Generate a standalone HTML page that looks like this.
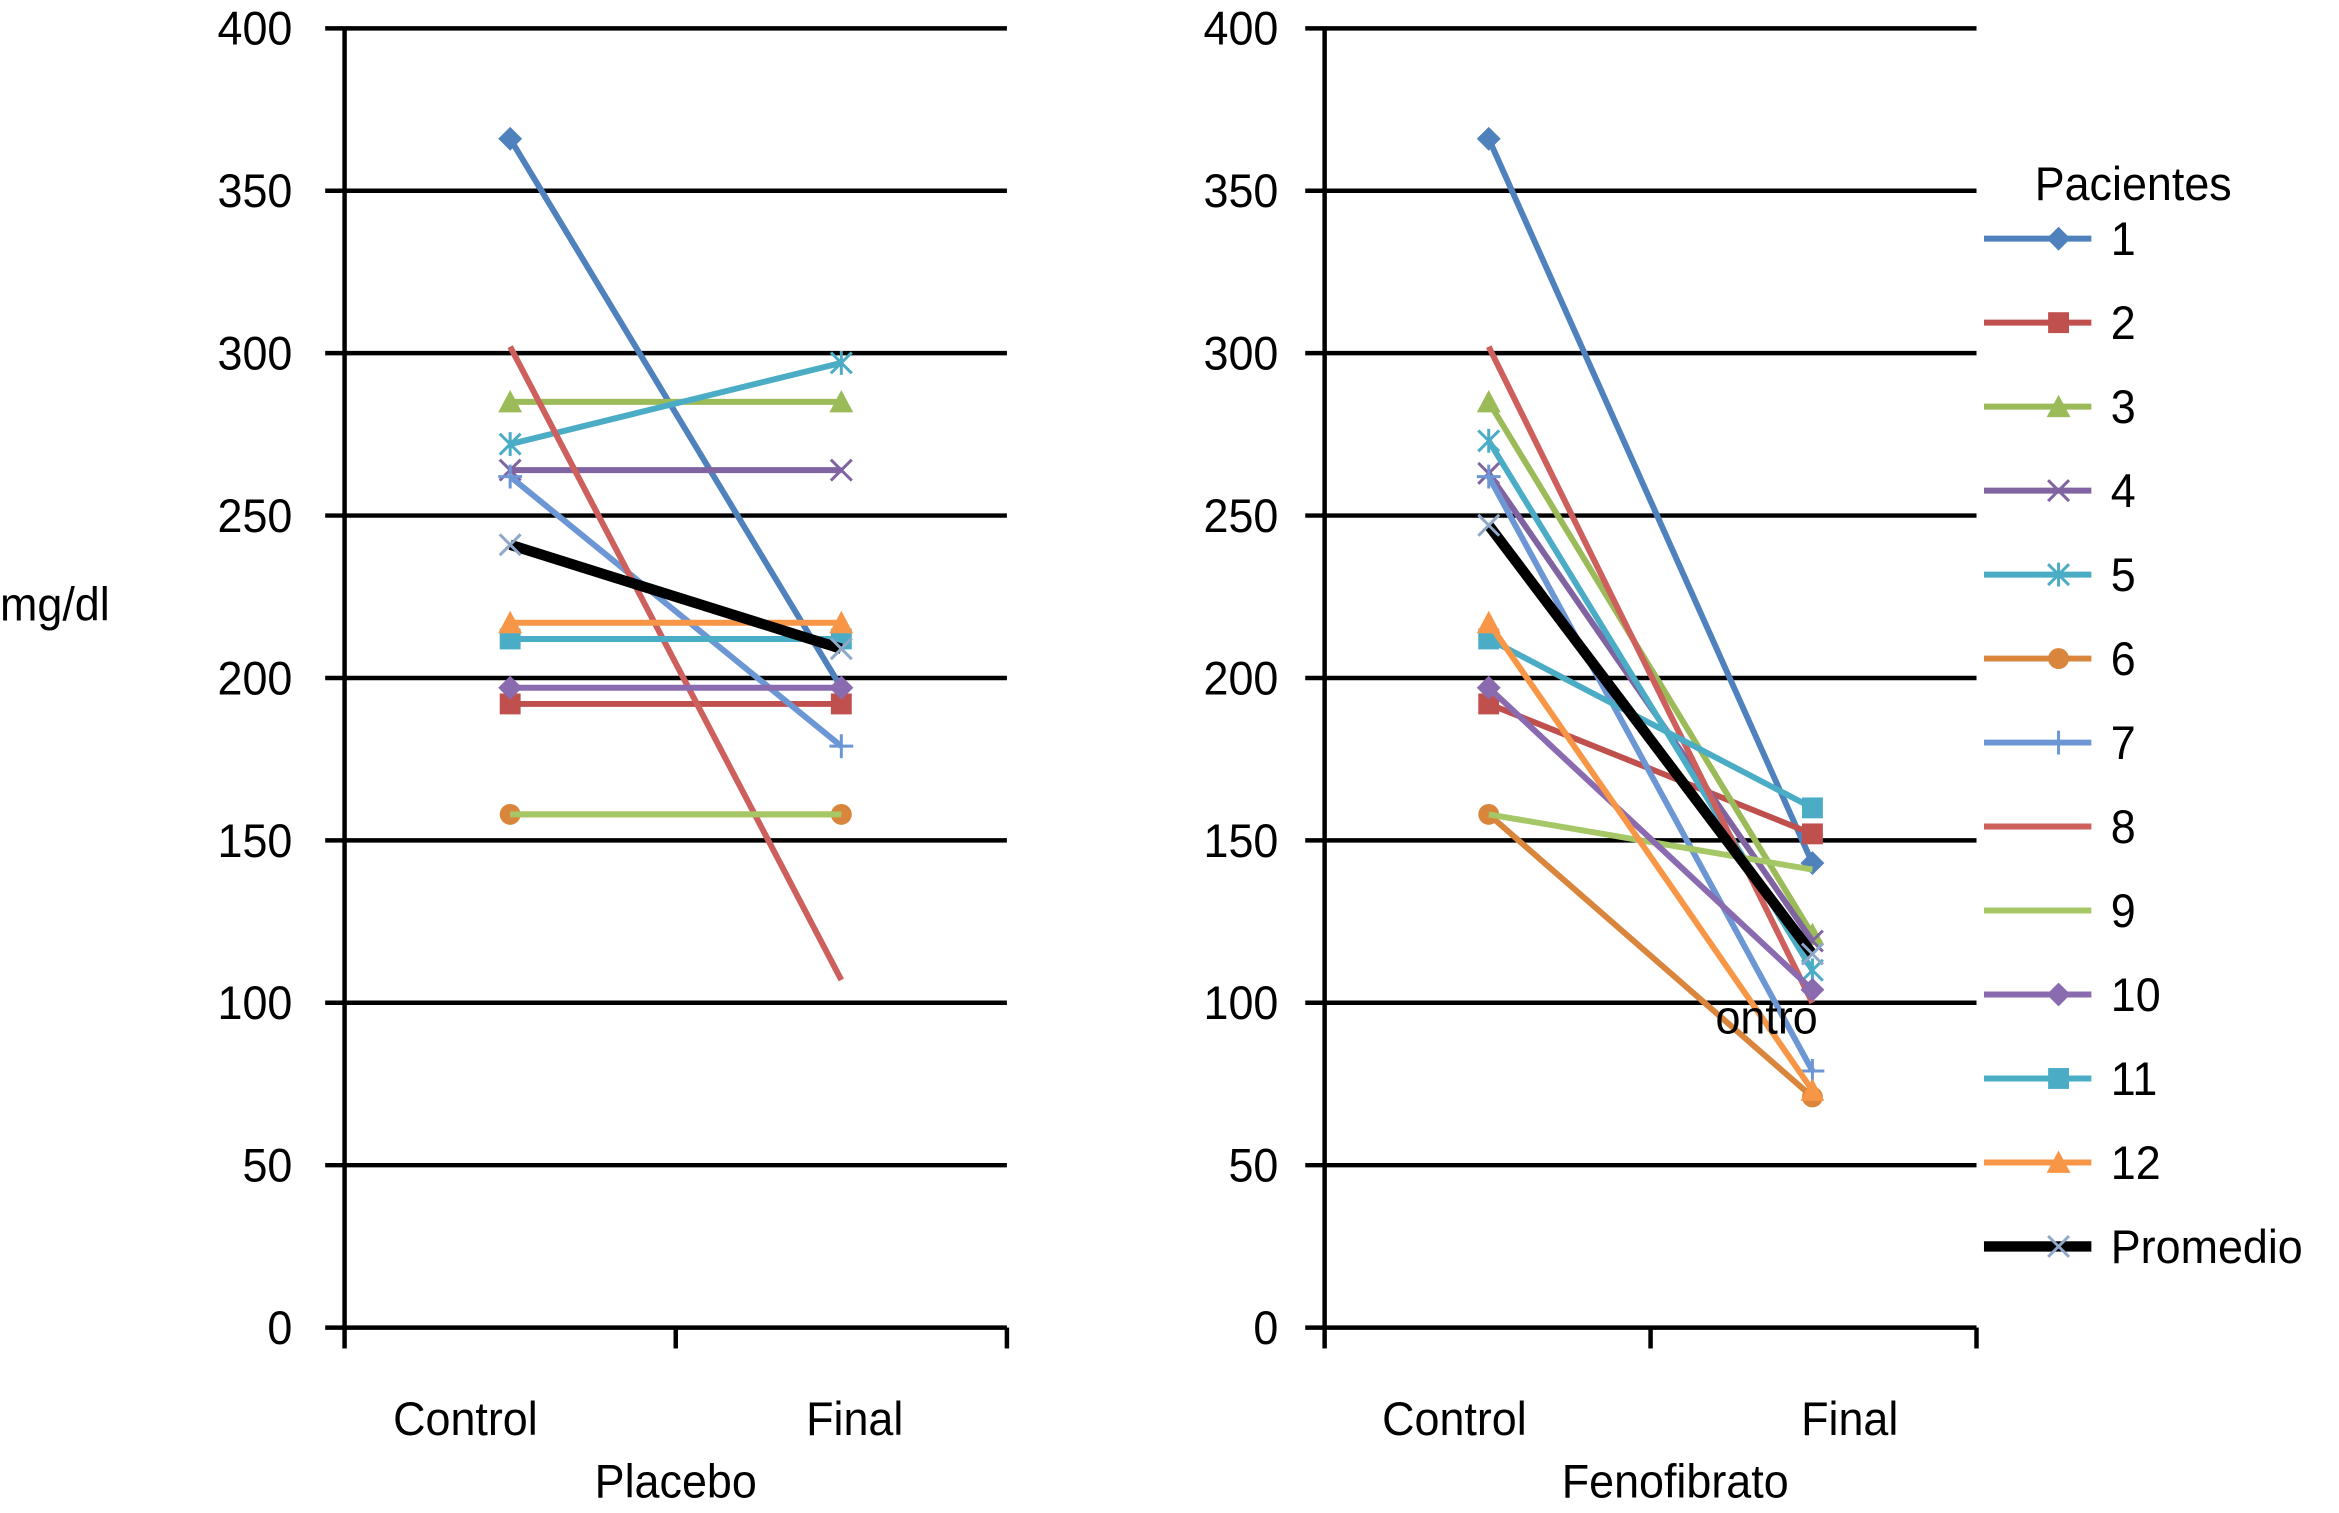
<!DOCTYPE html>
<html><head><meta charset="utf-8"><style>
html,body{margin:0;padding:0;background:#fff}
svg{display:block;font-family:"Liberation Sans",sans-serif}
</style></head><body>
<svg id="chart" width="2339" height="1513" viewBox="0 0 1568 1014.3" preserveAspectRatio="none" xmlns="http://www.w3.org/2000/svg"></svg>
<script>
const categories = ["Control","Final"];
const yTicks = [0,50,100,150,200,250,300,350,400];
const seriesNames = ["1","2","3","4","5","6","7","8","9","10","11","12","Promedio"];
const placeboControl = [366,192,285,264,272,158,262,302,158,197,212,217,241];
const placeboFinal   = [197,192,285,264,297,158,179,107,158,197,212,217,209];
const fenoControl    = [366,192,285,263,273,158,262,302,158,197,212,217,247];
const fenoFinal      = [143,152,121,119,110,71,79,100,141,104,160,73,115];
const colors = ["#4F81BD","#C0504D","#9BBB59","#8064A2","#4BACC6","#D9853B","#6C97D4","#CD5F5C","#A6C766","#8A6BB0","#4BACC6","#F79646","#000000"];
const markers = ["diamond","square","triangle","x","star","circle","plus","none","none","diamond","square","triangle","x"];

const svg = document.getElementById('chart');
const NS = "http://www.w3.org/2000/svg";
function mk(tag, attrs, parent){const e=document.createElementNS(NS,tag);for(const k in attrs)e.setAttribute(k,attrs[k]);(parent||svg).appendChild(e);return e;}
const y0=890, y400=19;
function yScale(v){return y0-(v/400)*(y0-y400);}
function txt(parent,x,y,s,anchor,content,name){
  const t=mk('text',{x:x,y:y,'font-size':s,'text-anchor':anchor||'start',fill:'#000',transform:`translate(${x} 0) scale(0.94 1) translate(${-x} 0)`},parent);
  t.textContent=content;
  
  
  return t;
}

function marker(g,type,x,y,color,name){
  let e;
  if(type==="diamond") e=mk('polygon',{points:`${x},${y-8} ${x+8},${y} ${x},${y+8} ${x-8},${y}`,fill:color},g);
  else if(type==="square") e=mk('rect',{x:x-7,y:y-7,width:14,height:14,fill:color},g);
  else if(type==="triangle") e=mk('polygon',{points:`${x},${y-8} ${x+8},${y+7} ${x-8},${y+7}`,fill:color},g);
  else if(type==="circle") e=mk('circle',{cx:x,cy:y,r:7,fill:color},g);
  else if(type==="x"){const c=name==="Promedio"?"#8FA8C8":color;e=mk('path',{d:`M${x-7},${y-7}L${x+7},${y+7}M${x-7},${y+7}L${x+7},${y-7}`,stroke:c,'stroke-width':2},g);}
  else if(type==="star") e=mk('path',{d:`M${x-7},${y-7}L${x+7},${y+7}M${x-7},${y+7}L${x+7},${y-7}M${x},${y-8}L${x},${y+8}`,stroke:color,'stroke-width':2},g);
  else if(type==="plus") e=mk('path',{d:`M${x-8},${y}L${x+8},${y}M${x},${y-8}L${x},${y+8}`,stroke:color,'stroke-width':2},g);
  else return;
  
  
}

function panel(id,axX,right,catX,catLabelX,labelX,title,titleX,ctrl,fin){
  const g=mk('g',{});
  
  
  yTicks.forEach(t=>{
    const y=yScale(t);
    if(t>0){const l=mk('line',{x1:axX-13,x2:right,y1:y,y2:y,stroke:'#000','stroke-width':3},g);
      }
    txt(g,labelX,y+11,32,'end',t,'y-tick-label');
  });
  const ax=mk('line',{x1:axX,x2:axX,y1:y400,y2:y0,stroke:'#000','stroke-width':3},g);
  
  const xa=mk('line',{x1:axX-13,x2:right,y1:y0,y2:y0,stroke:'#000','stroke-width':3},g);
  
  [axX,(axX+right)/2,right].forEach(x=>mk('line',{x1:x,x2:x,y1:y0,y2:y0+14,stroke:'#000','stroke-width':3},g));
  categories.forEach((c,i)=>txt(g,catLabelX[i],962,32,'middle',c,'x-category-label'));
  txt(g,titleX,1004,32,'middle',title,'x-axis-title');
  seriesNames.forEach((n,i)=>{
    const s=mk('g',{},g);
    
    
    const prom=n==="Promedio";
    mk('line',{x1:catX[0],y1:yScale(ctrl[i]),x2:catX[1],y2:yScale(fin[i]),stroke:colors[i],'stroke-width':prom?7:4},s);
    marker(s,markers[i],catX[0],yScale(ctrl[i]),colors[i],n);
    marker(s,markers[i],catX[1],yScale(fin[i]),colors[i],n);
  });
}
panel('placebo',231,675,[342,564],[312,573],196,'Placebo',453,placeboControl,placeboFinal);
panel('fenofibrato',888,1325,[998,1215],[975,1240],857,'Fenofibrato',1123,fenoControl,fenoFinal);

txt(svg,0,416,32,'start','mg/dl','y-axis-title');
txt(svg,1150,693,32,'start','ontro','stray-label');

const lg=mk('g',{});


txt(lg,1364,134,32,'start','Pacientes','legend-title');
seriesNames.forEach((n,i)=>{
  const y=160+56.3*i;
  const e=mk('g',{},lg);
  
  
  mk('line',{x1:1330,x2:1402,y1:y,y2:y,stroke:colors[i],'stroke-width':n==="Promedio"?7:4},e);
  marker(e,markers[i],1380,y,colors[i],n);
  txt(e,1415,y+11,32,'start',n,'legend-label');
});
</script>
</body></html>
